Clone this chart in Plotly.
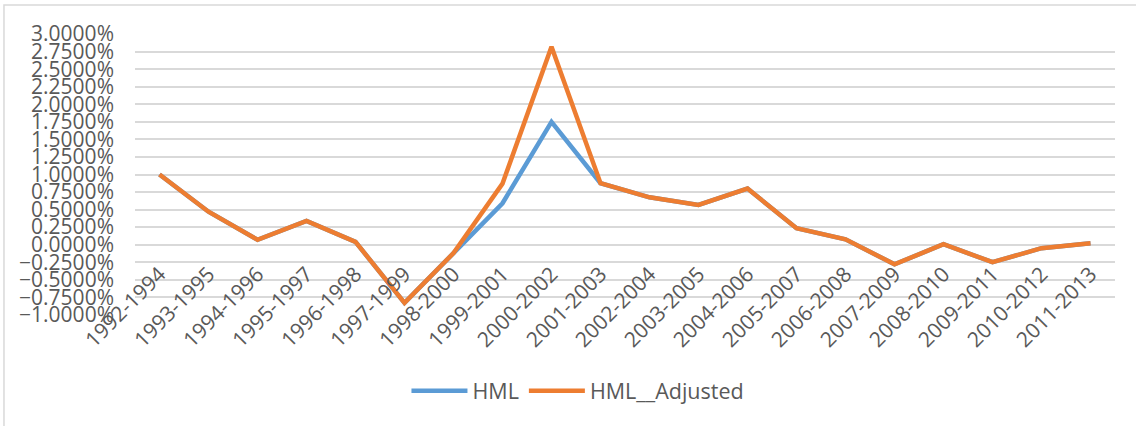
import plotly.graph_objects as go

periods = ["1992-1994", "1993-1995", "1994-1996", "1995-1997", "1996-1998",
           "1997-1999", "1998-2000", "1999-2001", "2000-2002", "2001-2003",
           "2002-2004", "2003-2005", "2004-2006", "2005-2007", "2006-2008",
           "2007-2009", "2008-2010", "2009-2011", "2010-2012", "2011-2013"]

hml = [1.00, 0.47, 0.07, 0.34, 0.04, -0.83, -0.12, 0.59, 1.75, 0.875,
       0.675, 0.566, 0.80, 0.234, 0.077, -0.28, 0.006, -0.25, -0.05, 0.02]

hml_adjusted = [1.00, 0.47, 0.07, 0.34, 0.04, -0.83, -0.12, 0.87, 2.82, 0.875,
                0.675, 0.566, 0.80, 0.234, 0.077, -0.28, 0.006, -0.25, -0.05, 0.02]

y_min, y_max, y_step = -1.0, 3.0, 0.25

FONT = "Open Sans"
GREY_TEXT = "#595959"
GRID = "#d9d9d9"
FS = 21

fig = go.Figure()
fig.add_trace(go.Scatter(x=periods, y=hml, mode="lines", name="HML",
                         line=dict(color="#5B9BD5", width=4.5)))
fig.add_trace(go.Scatter(x=periods, y=hml_adjusted, mode="lines", name="HML__Adjusted",
                         line=dict(color="#ED7D31", width=4.5)))

fig.update_layout(
    width=1136, height=426,
    margin=dict(l=135, r=21, t=34, b=111),
    paper_bgcolor="white", plot_bgcolor="white",
    font=dict(family=FONT, size=FS, color=GREY_TEXT),
    showlegend=True,
    legend=dict(orientation="h", x=0.452, xanchor="center", y=-0.27, yanchor="middle",
                font=dict(family=FONT, size=21.5, color=GREY_TEXT),
                itemwidth=56, tracegroupgap=0),
    xaxis=dict(type="category", range=[-0.5, len(periods) - 0.5],
               showgrid=False, zeroline=False, showline=False, automargin=False,
               anchor="free", position=(0 - y_min) / (y_max - y_min),
               tickangle=-45, ticks="", ticklabelstandoff=12,
               tickfont=dict(family=FONT, size=FS, color=GREY_TEXT)),
    yaxis=dict(range=[y_min - 0.002, y_max + 0.002], tick0=0, dtick=y_step,
               tickformat=".4f", ticksuffix="%", automargin=False,
               showgrid=True, gridcolor=GRID, gridwidth=1.5,
               zeroline=True, zerolinecolor=GRID, zerolinewidth=1.5,
               showline=False, ticks="", ticklabelstandoff=20,
               tickfont=dict(family=FONT, size=FS, color=GREY_TEXT)),
)

# outer chart border (partially cropped in the reference)
fig.add_shape(type="rect", xref="paper", yref="paper",
              x0=-0.1337, x1=1.1, y0=-0.6, y1=1.1032,
              line=dict(color=GRID, width=1.5), fillcolor="rgba(0,0,0,0)", layer="below")

fig.write_html("out.html", config={"displayModeBar": False},
               post_script="document.body.style.margin='0';document.body.style.overflow='hidden';")
